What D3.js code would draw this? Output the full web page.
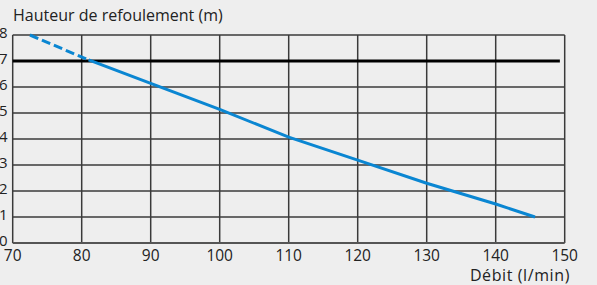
<!DOCTYPE html>
<html lang="fr">
<head>
<meta charset="utf-8">
<script src="https://cdn.jsdelivr.net/npm/d3@7"></script>
<style>
  body { margin: 0; background: #eeeeee; }
  svg text { font-family: "Open Sans", sans-serif; fill: #222; }
</style>
</head>
<body>
<script>
// valeurs
var xTicks = [70, 80, 90, 100, 110, 120, 130, 140, 150];
var yTicks = [0, 1, 2, 3, 4, 5, 6, 7, 8];
var courbeTirets = [[72.5, 8], [81, 7.04]];
var courbe = [[81, 7.04], [90, 6.14], [100, 5.14], [110, 4.07], [120, 3.19], [130, 2.30], [140, 1.5], [145.7, 1.0]];
var hauteurMax = 7;
var titreY = "Hauteur de refoulement (m)";
var titreX = "Débit (l/min)";

var w = 597, h = 285;

var svg = d3.select("body").append("svg")
  .attr("width", w)
  .attr("height", h);

var x = d3.scaleLinear().domain([70, 150]).range([12.7, 564.7]);
var y = d3.scaleLinear().domain([0, 8]).range([243, 35]);

// grille
svg.append("g").selectAll("line")
  .data(yTicks.filter(function(d) { return d > 0 && d != hauteurMax; }))
  .enter().append("line")
  .attr("x1", x(70)).attr("x2", x(150))
  .attr("y1", function(d) { return y(d); })
  .attr("y2", function(d) { return y(d); })
  .attr("stroke", "#3a3a3a")
  .attr("stroke-width", 1.5);

svg.append("g").selectAll("line")
  .data(xTicks)
  .enter().append("line")
  .attr("x1", function(d) { return x(d); })
  .attr("x2", function(d) { return x(d); })
  .attr("y1", y(8)).attr("y2", y(0))
  .attr("stroke", "#3a3a3a")
  .attr("stroke-width", 1.5);

// axe du bas
svg.append("line")
  .attr("x1", x(70)).attr("x2", x(150))
  .attr("y1", y(0)).attr("y2", y(0))
  .attr("stroke", "#555")
  .attr("stroke-width", 2);

// ligne hauteur max
svg.append("line")
  .attr("x1", x(70)).attr("x2", x(149.3))
  .attr("y1", y(hauteurMax)).attr("y2", y(hauteurMax))
  .attr("stroke", "#000")
  .attr("stroke-width", 3);

var line = d3.line()
  .x(function(d) { return x(d[0]); })
  .y(function(d) { return y(d[1]); });

svg.append("path")
  .datum(courbeTirets)
  .attr("d", line)
  .attr("fill", "none")
  .attr("stroke", "#0a86d2")
  .attr("stroke-width", 3)
  .attr("stroke-dasharray", "9,4");

svg.append("path")
  .datum(courbe)
  .attr("d", line)
  .attr("fill", "none")
  .attr("stroke", "#0a86d2")
  .attr("stroke-width", 3);

// etiquettes
svg.append("g").selectAll("text")
  .data(yTicks)
  .enter().append("text")
  .attr("x", 7.5)
  .attr("y", function(d) { return y(d) + 3; })
  .attr("text-anchor", "end")
  .style("font-size", "15px")
  .text(function(d) { return d; });

svg.append("g").selectAll("text")
  .data(xTicks)
  .enter().append("text")
  .attr("x", function(d) { return x(d); })
  .attr("y", 261)
  .attr("text-anchor", "middle")
  .style("font-size", "15.5px")
  .text(function(d) { return d; });

svg.append("text")
  .attr("x", 13).attr("y", 21)
  .style("font-size", "16px")
  .text(titreY);

svg.append("text")
  .attr("x", 570).attr("y", 281)
  .attr("text-anchor", "end")
  .style("font-size", "16px")
  .style("letter-spacing", "0.6px")
  .text(titreX);
</script>
</body>
</html>
